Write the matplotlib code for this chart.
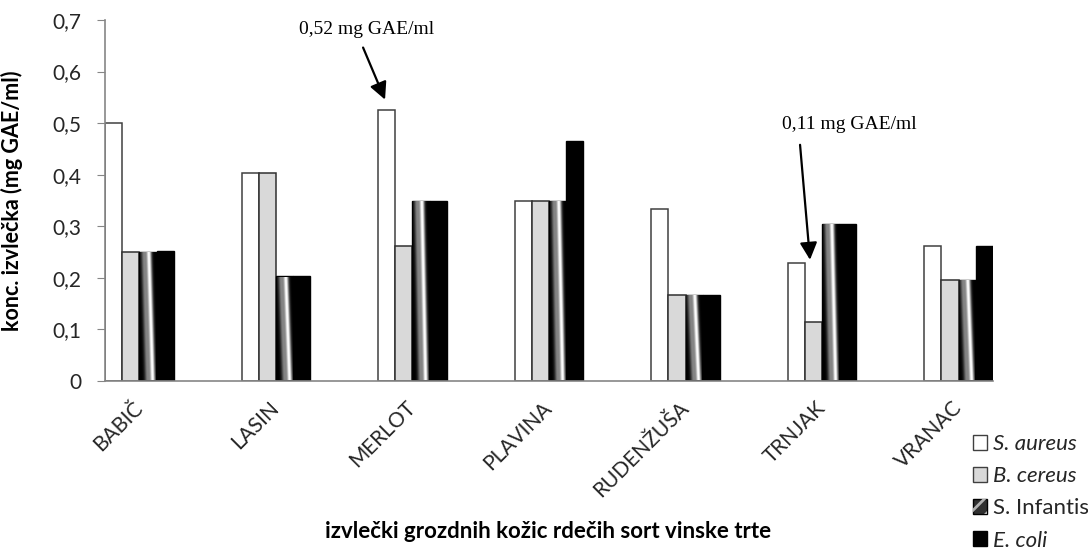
import numpy as np
import matplotlib
matplotlib.use("Agg")
import matplotlib.pyplot as plt
from matplotlib.patches import Patch
from matplotlib.legend_handler import HandlerTuple

categories = ["BABIČ", "LASIN", "MERLOT", "PLAVINA", "RUDENŽUŠA", "TRNJAK", "VRANAC"]
s_aureus = [0.50, 0.404, 0.525, 0.350, 0.333, 0.228, 0.262]
b_cereus = [0.25, 0.404, 0.262, 0.350, 0.167, 0.115, 0.196]
s_infantis = [0.251, 0.203, 0.350, 0.350, 0.167, 0.305, 0.196]
e_coli = [0.252, 0.204, 0.350, 0.466, 0.167, 0.305, 0.262]
series_names = ["S. aureus", "B. cereus", "S. Infantis", "E. coli"]
yticks = [0, 0.1, 0.2, 0.3, 0.4, 0.5, 0.6, 0.7]

plt.rcParams['font.family'] = ['Lato', 'DejaVu Sans']
plt.rcParams['hatch.linewidth'] = 2.0

fig = plt.figure(figsize=(10.88, 5.5), dpi=100)
ax = fig.add_axes([105/1088, 1-381/550, 888/1088, 361/550])

x = np.arange(len(categories))
w = 0.1262
offsets = [-1.5*w, -0.5*w, 0.5*w, 1.5*w]

ax.bar(x+offsets[0], s_aureus, w, color='white', edgecolor='#404040', linewidth=1.1, zorder=2)
ax.bar(x+offsets[1], b_cereus, w, color='#d9d9d9', edgecolor='#303030', linewidth=1.1, zorder=2)
hb = ax.bar(x+offsets[2], s_infantis, w, color='black', edgecolor='black', linewidth=1.0, zorder=2)
ax.bar(x+offsets[3], e_coli, w, color='black', edgecolor='black', linewidth=1.0, zorder=2)

# streaked fill for S. Infantis bars
nx, ny = 80, 160
xx = np.linspace(0, 1, nx)
tt = np.linspace(0, 1, ny)
X, T = np.meshgrid(xx, tt)
C = 0.56 + 0.24*(1-T)
img = 1.0*np.exp(-((X-C)/0.16)**2) + 0.5*np.exp(-((X-(C-0.32))/0.18)**2)
img = np.clip(img, 0, 1)
for rect in hb.patches:
    x0 = rect.get_x(); x1 = x0 + rect.get_width(); h = rect.get_height()
    im = ax.imshow(img, extent=(x0+0.006, x1-0.006, 0.002, h-0.002), origin='lower', cmap='gray',
                   vmin=0, vmax=1, aspect='auto', zorder=2.5, interpolation='bilinear')
    im.set_clip_path(rect)

ax.set_xlim(-2*w, len(categories)-1+2*w)
ax.set_ylim(0, 0.7)
ax.set_yticks(yticks)
ax.set_yticklabels([f"{v:g}".replace('.', ',') for v in yticks])
ax.set_xticks(x)
ax.set_xticklabels(categories, rotation=45, ha='right', rotation_mode='anchor', va='center')

for s in ['top', 'right']:
    ax.spines[s].set_visible(False)
for s in ['left', 'bottom']:
    ax.spines[s].set_color('#868686')
    ax.spines[s].set_linewidth(1.2)
ax.tick_params(axis='y', direction='out', length=6, color='#868686', labelsize=15,
               labelcolor='#262626', pad=11)
ax.tick_params(axis='x', length=0, labelsize=15, labelcolor='#262626', pad=17)

ax.set_ylabel("konc. izvlečka (mg GAE/ml)", fontsize=15.5, fontweight='bold')
ax.yaxis.set_label_coords((23-105)/888, 0.5)
ax.set_xlabel("izvlečki grozdnih kožic rdečih sort vinske trte", fontsize=16,
              fontweight='bold', va='center')
ax.xaxis.set_label_coords((548-105)/888, (381-532)/361)

# annotations
ax.text(1.660, 0.6816, "0,52 mg GAE/ml", ha='center', va='center', fontsize=14,
        family='Liberation Serif')
ax.annotate("", xy=(1.799, 0.5456), xytext=(1.638, 0.6466),
            arrowprops=dict(arrowstyle='-|>', color='black', lw=1.6, mutation_scale=26,
                            shrinkA=0, shrinkB=0))
ax.text(5.202, 0.497, "0,11 mg GAE/ml", ha='center', va='center', fontsize=14,
        family='Liberation Serif')
ax.annotate("", xy=(4.912, 0.235), xytext=(4.839, 0.458),
            arrowprops=dict(arrowstyle='-|>', color='black', lw=1.6, mutation_scale=26,
                            shrinkA=0, shrinkB=0))

handles = [Patch(facecolor='white', edgecolor='#404040', linewidth=1.0),
           Patch(facecolor='#d9d9d9', edgecolor='#404040', linewidth=1.0),
           (Patch(facecolor='#303030', edgecolor='black', linewidth=1.0),
            Patch(facecolor='none', edgecolor='#b0b0b0', hatch='//', linewidth=0.01)),
           Patch(facecolor='black', edgecolor='black', linewidth=1.0)]
leg = fig.legend(handles, series_names, loc='upper left',
                 bbox_to_anchor=(973/1088, 1-434/550), frameon=False, fontsize=16,
                 handlelength=0.65, handleheight=0.65, handletextpad=0.25,
                 labelspacing=0.55, borderaxespad=0, borderpad=0,
                 handler_map={tuple: HandlerTuple(ndivide=1, pad=0)})
for i, t in enumerate(leg.get_texts()):
    t.set_color('#262626')
    if i != 2:
        t.set_style('italic')

fig.savefig("out.png", dpi=100)
